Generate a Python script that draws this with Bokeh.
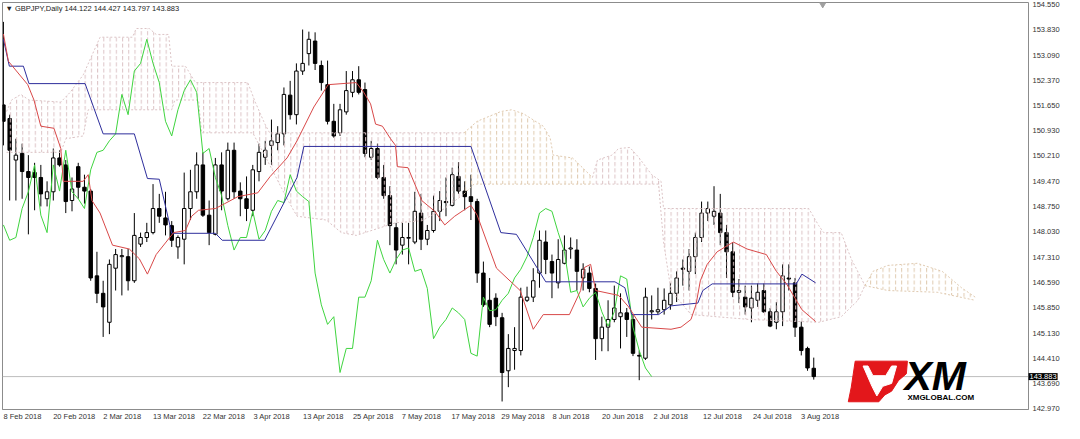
import numpy as np
from bokeh.plotting import figure
from bokeh.models import Range1d, FixedTicker, NumeralTickFormatter, Label, Span, LinearAxis
from bokeh.embed import file_html
from bokeh.resources import INLINE
from bokeh.core.properties import value

# ---------------- data ----------------
bar_open = [151.67, 151.28, 150.09, 150.28, 149.76, 149.73, 149.59, 148.98, 149.18, 150.15,
            149.95, 148.93, 149.90, 149.31, 149.20, 146.77, 146.27, 145.44, 146.99, 147.32,
            147.32, 146.63, 147.68, 147.87, 148.01, 148.70, 148.43, 148.21, 147.60, 147.82,
            148.70, 149.18, 149.95, 148.51, 147.96, 149.95, 148.98, 150.37, 149.20, 148.98,
            148.65, 149.76, 150.17, 150.51, 150.59, 150.84, 151.95, 151.39, 152.64, 153.14,
            153.50, 152.80, 152.25, 151.20, 150.87, 151.47, 152.03, 152.39, 152.11, 150.17,
            150.42, 149.59, 149.07, 148.15, 147.65, 147.85, 147.74, 148.57, 147.82, 148.07,
            148.62, 148.90, 148.79, 149.62, 149.20, 149.04, 148.90, 146.85, 146.07, 146.13,
            145.57, 144.05, 144.63, 144.63, 146.07, 146.16, 146.85, 147.74, 147.18, 146.57,
            147.13, 147.54, 147.51, 146.71, 146.85, 146.41, 144.97, 145.30, 145.52, 145.60,
            145.71, 145.52, 144.49, 144.41, 145.74, 145.74, 145.80, 145.94, 146.27, 146.99,
            146.90, 147.32, 147.87, 148.57, 148.48, 148.57, 148.01, 147.46, 146.30, 146.16,
            145.85, 146.07, 146.35, 145.74, 145.44, 145.74, 146.71, 146.57, 145.30, 144.69,
            144.122]
bar_high = [154.05, 151.39, 150.70, 150.56, 150.23, 150.01, 149.95, 149.48, 150.42, 150.37,
            150.09, 149.59, 150.01, 149.67, 149.26, 147.46, 146.63, 147.24, 147.54, 147.54,
            147.54, 148.57, 148.01, 148.29, 149.40, 149.12, 149.18, 148.34, 147.93, 149.73,
            149.81, 150.31, 150.31, 148.93, 150.15, 150.31, 150.59, 150.59, 149.45, 149.62,
            149.95, 150.56, 150.64, 151.25, 151.06, 152.17, 152.36, 152.86, 153.83, 153.77,
            153.75, 152.94, 152.94, 151.70, 151.70, 152.64, 152.64, 152.78, 152.31, 150.64,
            150.56, 149.95, 149.34, 148.29, 148.29, 148.29, 149.18, 149.12, 148.23, 149.07,
            149.20, 149.59, 149.87, 150.03, 149.48, 149.67, 148.98, 147.18, 146.71, 146.27,
            145.71, 145.10, 145.30, 146.43, 146.46, 146.99, 148.07, 148.07, 147.38, 147.82,
            147.93, 147.87, 147.82, 147.13, 147.04, 146.55, 145.60, 146.07, 146.49, 146.27,
            145.85, 145.66, 144.63, 146.43, 146.21, 146.43, 146.41, 146.57, 146.90, 147.24,
            147.54, 148.01, 148.90, 148.90, 149.34, 149.12, 148.23, 147.74, 146.68, 146.49,
            146.49, 146.55, 146.55, 145.85, 146.02, 147.10, 147.10, 146.71, 145.46, 144.74,
            144.427]
bar_low = [150.51, 148.93, 148.93, 148.98, 147.96, 148.65, 148.76, 148.76, 148.93, 149.90,
           148.57, 148.62, 148.98, 148.84, 146.63, 145.99, 145.02, 145.10, 146.35, 146.21,
           146.35, 146.57, 147.60, 147.74, 147.96, 148.29, 147.93, 147.60, 147.26, 147.10,
           148.37, 148.98, 148.46, 147.65, 147.93, 148.65, 148.93, 148.98, 148.48, 148.34,
           148.48, 149.48, 149.95, 149.95, 150.37, 150.51, 151.25, 151.11, 152.53, 152.80,
           152.67, 152.08, 151.11, 150.73, 150.78, 151.39, 151.89, 151.97, 150.17, 150.09,
           149.54, 148.98, 147.65, 147.10, 147.38, 147.10, 147.68, 147.51, 147.65, 148.01,
           148.34, 148.48, 148.76, 149.12, 148.65, 148.37, 146.57, 145.88, 145.30, 145.33,
           143.17, 143.58, 144.08, 144.49, 146.02, 146.02, 146.43, 146.82, 146.13, 146.41,
           147.10, 147.26, 146.35, 146.35, 146.30, 144.36, 144.61, 144.61, 145.44, 144.69,
           145.02, 144.47, 143.78, 144.36, 145.52, 145.66, 145.66, 145.80, 146.02, 146.49,
           146.35, 146.82, 147.74, 148.34, 148.23, 147.65, 146.71, 146.16, 145.99, 145.66,
           145.44, 145.88, 145.71, 145.30, 145.24, 145.33, 146.35, 145.02, 144.49, 144.05,
           143.797]
bar_close = [151.20, 150.37, 150.23, 149.76, 149.59, 149.59, 149.12, 149.18, 150.15, 149.95,
             148.90, 149.26, 149.31, 149.20, 146.71, 146.27, 145.88, 147.10, 147.38, 147.35,
             146.63, 147.93, 147.87, 148.01, 148.70, 148.48, 148.23, 147.79, 147.87, 148.70,
             149.18, 149.95, 148.51, 148.01, 149.95, 149.20, 150.37, 149.18, 148.98, 148.70,
             149.81, 150.31, 150.37, 150.64, 150.84, 151.97, 151.39, 152.64, 152.86, 153.55,
             152.86, 152.31, 151.20, 150.78, 151.53, 152.08, 152.39, 152.03, 150.28, 150.42,
             149.59, 149.07, 148.21, 147.51, 147.87, 147.87, 148.62, 147.82, 148.07, 148.62,
             148.93, 148.87, 149.67, 149.20, 149.04, 148.90, 146.85, 145.94, 145.38, 145.60,
             144.00, 144.69, 144.69, 146.16, 146.16, 146.63, 147.79, 147.24, 146.85, 147.24,
             147.51, 147.57, 146.90, 146.96, 146.41, 144.97, 145.30, 145.52, 145.85, 145.71,
             145.52, 144.55, 144.47, 146.16, 145.77, 145.80, 146.07, 146.27, 146.71, 146.96,
             147.32, 147.87, 148.57, 148.70, 148.62, 148.01, 147.46, 146.30, 146.35, 145.88,
             146.13, 146.30, 145.74, 145.33, 145.74, 146.77, 146.68, 145.30, 144.63, 144.13,
             143.883]

date_labels = ["8 Feb 2018", "20 Feb 2018", "2 Mar 2018", "13 Mar 2018", "22 Mar 2018",
               "3 Apr 2018", "13 Apr 2018", "25 Apr 2018", "7 May 2018", "17 May 2018",
               "29 May 2018", "8 Jun 2018", "20 Jun 2018", "2 Jul 2018", "12 Jul 2018",
               "24 Jul 2018", "3 Aug 2018"]
bars_per_label = 8

price_ticks = [142.970, 143.690, 144.410, 145.130, 145.850, 146.590, 147.310, 148.030,
               148.750, 149.470, 150.210, 150.930, 151.650, 152.370, 153.090, 153.830, 154.550]
last_price = 143.883
title_text = "\u25bc GBPJPY,Daily  144.122 144.427 143.797 143.883"
chikou_shift = 26

# Tenkan-sen (red) vertices: bar index, price
tenkan_x = [0, 0.8, 3.9, 4.9, 6.0, 8.1, 9.2, 9.6, 12.8, 13.6, 14.2, 15.5, 17.5, 20.2, 21.8,
            23.1, 24.5, 26.1, 27.3, 29.2, 30.2, 31.3, 34.0, 35.5, 37.6, 40.8, 42.8, 45.5, 47.1,
            49.8, 52.1, 56.6, 57.8, 58.9, 59.7, 60.8, 62.1, 62.9, 63.2, 64.9, 67.1, 69.2, 70.8,
            72.4, 75.0, 76.0, 79.1, 82.9, 85.0, 86.6, 90.8, 92.6, 93.2, 94.2, 95.0, 98.7, 100.3,
            102.4, 107.1, 108.7, 110.3, 111.1, 111.8, 112.9, 114.5, 117.1, 119.3, 122.4, 124.0,
            125.6, 128.1, 130.3]
tenkan_y = [153.70, 152.92, 152.25, 151.81, 151.06, 151.00, 150.42, 149.48, 149.48, 149.67,
            148.93, 148.57, 147.65, 147.54, 147.26, 146.82, 147.38, 147.74, 148.01, 148.07,
            148.48, 148.65, 148.70, 148.84, 149.04, 149.15, 149.62, 150.15, 150.64, 151.61,
            152.25, 152.31, 152.03, 151.70, 151.12, 151.06, 150.70, 150.51, 149.90, 149.87,
            148.93, 148.62, 148.23, 148.48, 148.79, 148.51, 146.99, 146.35, 145.24, 145.66,
            145.66, 146.35, 147.01, 147.10, 146.35, 146.21, 145.88, 145.30, 145.24, 145.30,
            145.52, 145.94, 146.63, 147.10, 147.46, 147.74, 147.54, 147.38, 146.90, 146.55,
            145.80, 145.46]

# Kijun-sen (blue) vertices
kijun_x = [0, 0.95, 3.2, 4.1, 13.1, 16.0, 21.0, 23.1, 25.0, 27.0, 34.0, 35.1, 41.9, 47.1,
           48.2, 75.0, 79.8, 82.3, 87.0, 98.1, 99.7, 100.8, 105.1, 107.1, 111.4, 112.2, 113.7,
           127.2, 128.1, 130.3]
kijun_y = [153.55, 152.78, 152.78, 152.28, 152.28, 150.84, 150.84, 149.56, 149.54, 147.99,
           147.99, 147.79, 147.79, 149.59, 150.48, 150.48, 148.01, 147.96, 146.60, 146.60,
           146.43, 145.66, 145.66, 145.91, 145.99, 146.35, 146.54, 146.54, 146.82, 146.57]

# Kumo (cloud) outlines, split where the cloud changes colour
kumo1_upper_x = [0.5, 1.3, 2.8, 4.1, 9.2, 10.7, 12.8, 15.5, 20.7, 21.3, 23.4, 24.5, 26.5, 27.0,
                 29.2, 30.8, 39.2, 40.4, 41.9, 42.7, 73.9]
kumo1_upper_y = [151.48, 151.81, 151.97, 151.81, 151.75, 152.03, 152.53, 153.61, 153.61, 153.86,
                 153.86, 153.69, 153.69, 152.78, 152.78, 152.31, 152.31, 151.75, 151.14, 150.87,
                 150.87]
kumo1_lower_x = [0.5, 9.2, 10.0, 12.8, 13.6, 27.0, 27.5, 31.3, 31.8, 40.0, 42.3, 45.5, 47.1,
                 51.8, 54.2, 56.6, 62.9, 67.1, 70.8, 73.9]
kumo1_lower_y = [150.31, 150.31, 150.70, 150.78, 151.53, 151.53, 151.81, 151.81, 150.87, 150.87,
                 150.09, 148.98, 148.48, 148.37, 148.01, 147.93, 148.29, 148.35, 148.70, 149.12]

kumo2_upper_x = [73.9, 76.0, 79.8, 81.5, 83.4, 86.6, 87.7, 88.2, 91.3, 92.9, 94.5]
kumo2_upper_y = [150.87, 151.20, 151.48, 151.53, 151.42, 151.06, 150.73, 150.23, 150.15, 149.87, 149.59]
kumo2_lower_x = [73.9, 75.5, 94.5]
kumo2_lower_y = [149.12, 149.40, 149.40]

kumo3_upper_x = [94.5, 95.3, 97.6, 98.7, 100.5, 101.9, 104.0, 105.5, 105.9, 129.2, 130.8, 131.6,
                 134.4, 136.0, 137.6, 138.2]
kumo3_upper_y = [149.59, 150.09, 150.23, 150.42, 150.45, 150.17, 149.67, 149.48, 148.70, 148.70,
                 148.21, 148.01, 148.01, 147.26, 146.71, 146.49]
kumo3_lower_x = [94.5, 105.1, 105.9, 107.1, 110.3, 119.7, 130.8, 134.4, 137.1, 138.2]
kumo3_lower_y = [149.40, 149.40, 147.74, 146.35, 145.66, 145.52, 145.44, 145.60, 146.07, 146.49]

kumo4_upper_x = [138.2, 139.5, 141.9, 146.6, 150.6, 153.7, 155.9]
kumo4_upper_y = [146.49, 146.90, 147.07, 147.13, 146.90, 146.43, 146.16]
kumo4_lower_x = [138.2, 141.9, 149.8, 155.9]
kumo4_lower_y = [146.49, 146.35, 146.30, 146.07]

# ---------------- layout / style ----------------
XR = (-0.15, 164.45)
YR = (142.94, 154.605)
W, H = 1064, 423
BORDER_L, BORDER_R, BORDER_T, BORDER_B = 2, 36, 2, 12
FONT = "Liberation Sans"
FSIZE = "7.5px"
PINK = "#dcc4c6"
TAN = "#e0cab0"
PRICE_BOX_W = 29          # approx. width of the price box panel, px

frame_w = W - BORDER_L - BORDER_R
px_per_bar = frame_w / (XR[1] - XR[0])

# reference-picture frame (for placing the decorative logo)
RL, RR, RT, RB = 2, 1044, 2, 423
def fx(px):
    return XR[0] + (px - RL) / (RR - RL) * (XR[1] - XR[0])
def fy(py):
    return YR[1] - (py - RT) / (RB - RT) * (YR[1] - YR[0])

p = figure(width=W, height=H, x_range=Range1d(*XR), y_range=Range1d(*YR),
           output_backend="svg", toolbar_location=None, y_axis_location=None,
           min_border_left=BORDER_L, min_border_right=BORDER_R,
           min_border_top=BORDER_T, min_border_bottom=BORDER_B)
p.xgrid.visible = False
p.ygrid.visible = False
p.outline_line_color = "#8c8c8c"
p.background_fill_color = "white"
p.border_fill_color = "white"

# current price line
p.add_layout(Span(location=last_price, dimension="width", line_color="#bdbdbd",
                  line_width=1, level="underlay"))

# candles
o = np.array(bar_open); hi = np.array(bar_high); lo = np.array(bar_low); c = np.array(bar_close)
idx = np.arange(len(c))
up = c >= o
p.segment(x0=idx, y0=lo, x1=idx, y1=hi, line_color="black", line_width=1)
p.vbar(x=idx[up], bottom=o[up], top=c[up], width=0.55, fill_color="white",
       line_color="black", line_width=1)
p.vbar(x=idx[~up], bottom=c[~up], top=o[~up], width=0.55, fill_color="black",
       line_color="black", line_width=1)

# cloud
clouds = [(kumo1_upper_x, kumo1_upper_y, kumo1_lower_x, kumo1_lower_y, PINK),
          (kumo2_upper_x, kumo2_upper_y, kumo2_lower_x, kumo2_lower_y, TAN),
          (kumo3_upper_x, kumo3_upper_y, kumo3_lower_x, kumo3_lower_y, PINK),
          (kumo4_upper_x, kumo4_upper_y, kumo4_lower_x, kumo4_lower_y, TAN)]
for ux, uy, lx, ly, col in clouds:
    xs = list(ux) + list(lx)[::-1]
    ys = list(uy) + list(ly)[::-1]
    p.patch(xs, ys, fill_color="white", fill_alpha=0, line_alpha=0,
            hatch_pattern=":", hatch_color=col, hatch_scale=px_per_bar,
            hatch_weight=1, hatch_alpha=1.0)
    p.line(ux, uy, line_color=col, line_dash="2 2", line_width=1)
    p.line(lx, ly, line_color=col, line_dash="2 2", line_width=1)

# chikou, kijun, tenkan
p.line(idx[:-chikou_shift], c[chikou_shift:], line_color="#3fd43f", line_width=1)
p.line(kijun_x, kijun_y, line_color="#2e2e9c", line_width=1)
p.line(tenkan_x, tenkan_y, line_color="#d84848", line_width=1)

# x axis (dates); labels start at their bar like the terminal does
tick_pos = [round(i * bars_per_label + len(lbl) * 3.8 / 2 / px_per_bar, 3)
            for i, lbl in enumerate(date_labels)]
p.xaxis.ticker = FixedTicker(ticks=tick_pos)
p.xaxis.major_label_overrides = {t: lbl for t, lbl in zip(tick_pos, date_labels)}
p.xaxis.major_tick_out = 0
p.xaxis.major_tick_in = 0
p.xaxis.minor_tick_out = 0
p.xaxis.minor_tick_in = 0
p.xaxis.axis_line_color = "#8c8c8c"
p.xaxis.major_label_standoff = 2
p.xaxis.major_label_text_font = FONT
p.xaxis.major_label_text_font_size = FSIZE
p.xaxis.major_label_text_color = "#333333"

# last price box: sits in the right side panel next to the frame (not clipped)
p.add_layout(Label(x=XR[1], y=last_price, x_offset=0, text=f"{last_price:.3f}",
                   text_baseline="middle", text_font=FONT, text_font_size=FSIZE,
                   text_color="white", background_fill_color="black", padding=1),
             "right")

# price axis, pulled back over the price box panel
yaxis = LinearAxis(ticker=FixedTicker(ticks=price_ticks),
                   formatter=NumeralTickFormatter(format="0.000"))
yaxis.major_tick_out = 0
yaxis.major_tick_in = 0
yaxis.minor_tick_out = 0
yaxis.minor_tick_in = 0
yaxis.axis_line_color = None
yaxis.major_label_standoff = 4 - PRICE_BOX_W
yaxis.major_label_text_font = FONT
yaxis.major_label_text_font_size = FSIZE
yaxis.major_label_text_color = "#333333"
p.add_layout(yaxis, "right")

# title text
p.add_layout(Label(x=XR[0], y=YR[1], x_offset=3, y_offset=-1, text=title_text,
                   text_baseline="top", text_font=FONT, text_font_size=FSIZE,
                   text_color="#222222"))

# chart-shift marker on the top border
p.scatter(x=[fx(835)], y=[fy(4)], marker="inverted_triangle", size=6,
          fill_color="#a0a0a0", line_color="#a0a0a0")

# XM logo (decoration)
logo_red = [(868, 373), (921, 373), (920, 386), (912, 393), (905, 404), (898, 408),
            (892, 415), (861, 415), (864, 400)]
logo_white = [(876, 378), (881, 378), (886, 388), (899, 388), (905, 378), (910, 378),
              (905, 396), (896, 399), (890, 409), (885, 399)]
p.patch([fx(a) for a, b in logo_red], [fy(b) for a, b in logo_red],
        fill_color="#e3171b", line_color="#e3171b")
p.patch([fx(a) for a, b in logo_white], [fy(b) for a, b in logo_white],
        fill_color="white", line_color="white")
p.text(x=[fx(918)], y=[fy(388.5)], text=["XM"], text_font=value(FONT),
       text_font_style="bold italic", text_font_size="41px", text_color="black",
       text_baseline="middle", text_align="left")
p.text(x=[fx(921)], y=[fy(410.5)], text=["XMGLOBAL.COM"], text_font=value(FONT),
       text_font_style="bold", text_font_size="8px", text_color="black",
       text_baseline="middle", text_align="left")

open("out.html", "w").write(file_html(p, INLINE))
